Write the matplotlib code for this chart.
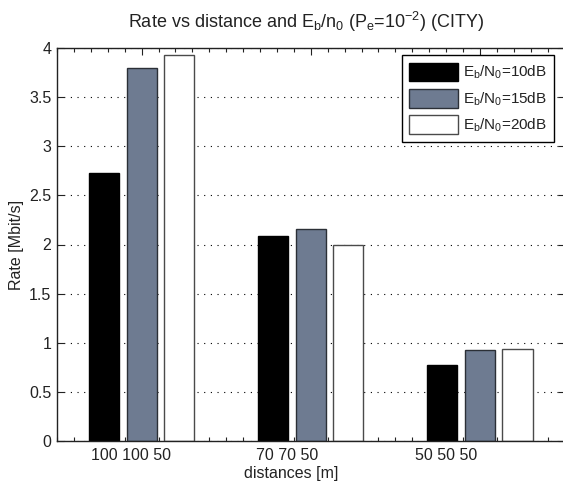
import numpy as np
import matplotlib
matplotlib.use('Agg')
import matplotlib.pyplot as plt
from matplotlib.ticker import MultipleLocator

plt.rcParams['font.family'] = ['Liberation Sans', 'DejaVu Sans']
plt.rcParams['mathtext.fontset'] = 'custom'
plt.rcParams['mathtext.rm'] = 'Liberation Sans'
plt.rcParams['mathtext.it'] = 'Liberation Sans'

# rate [Mbit/s] per distance group, one series per Eb/N0
group_labels = ['100 100 50', '70 70 50', '50 50 50']
series_names = [r'$E_b/N_0$=10dB', r'$E_b/N_0$=15dB', r'$E_b/N_0$=20dB']
rate_10dB = [2.73, 2.09, 0.77]
rate_15dB = [3.80, 2.16, 0.93]
rate_20dB = [3.93, 2.00, 0.94]
rates = [rate_10dB, rate_15dB, rate_20dB]

face = ['#000000', '#6e7b91', '#ffffff']
edge = ['#000000', '#2b2f36', '#4a4a4a']

fig = plt.figure(figsize=(5.63, 4.83), dpi=100)
ax = fig.add_axes([57/563, 42/483, 507.5/563, 393/483])

x = np.arange(1, len(group_labels) + 1)
step = 0.222
width = 0.178
for k, r in enumerate(rates):
    ax.bar(x + (k - 1) * step, r, width, color=face[k], edgecolor=edge[k],
           linewidth=1.0, label=series_names[k], zorder=2)

ax.set_xlim(0.5, 3.5)
ax.set_ylim(0, 4)
ax.set_yticks(np.arange(0, 4.01, 0.5))
ax.set_yticklabels(['0', '0.5', '1', '1.5', '2', '2.5', '3', '3.5', '4'])
ax.set_xticks(x)
ax.set_xticklabels([''] * len(x))
ax.xaxis.set_minor_locator(MultipleLocator(0.1))
ax.tick_params(which='both', direction='in', top=True, right=True,
               labelsize=11.5, colors='#222222', width=0.8)
ax.tick_params(which='major', length=5)
ax.tick_params(which='minor', length=3)
ax.tick_params(axis='y', pad=4)
ax.yaxis.grid(True, linestyle=(0, (1, 5)), color='black', linewidth=0.8)
ax.set_axisbelow(True)
for s in ax.spines.values():
    s.set_linewidth(1.0)
    s.set_color('#222222')

# group labels sit a little left of each tick
shift = [0.06, 0.14, 0.20]
for xi, lab, d in zip(x, group_labels, shift):
    ax.text(xi - d, -0.145, lab, ha='center', va='center', fontsize=11.5,
            color='#222222')

ax.set_xlabel('distances [m]', fontsize=11.5, color='#222222', va='center')
ax.xaxis.set_label_coords(0.461, -0.082)
ax.set_ylabel('Rate [Mbit/s]', fontsize=11.5, color='#222222', va='center')
ax.yaxis.set_label_coords(-0.079, 0.5)

fig.text(306.5/563, 1 - 22/483,
         r'Rate vs distance and $E_b/n_0$ ($P_e$=10$^{-2}$) (CITY)',
         ha='center', va='center', fontsize=13, color='#222222')

leg = ax.legend(loc='upper left', bbox_to_anchor=((401.7-57)/507.5, 1 - 7/393),
                fontsize=11, handlelength=3.2, handleheight=1.5,
                labelspacing=0.5, handletextpad=0.3, borderpad=0.5,
                borderaxespad=0, fancybox=False, framealpha=1)
leg.get_frame().set_edgecolor('black')
leg.get_frame().set_linewidth(1.0)
for t in leg.get_texts():
    t.set_color('#222222')

fig.savefig('out.png', dpi=100)
